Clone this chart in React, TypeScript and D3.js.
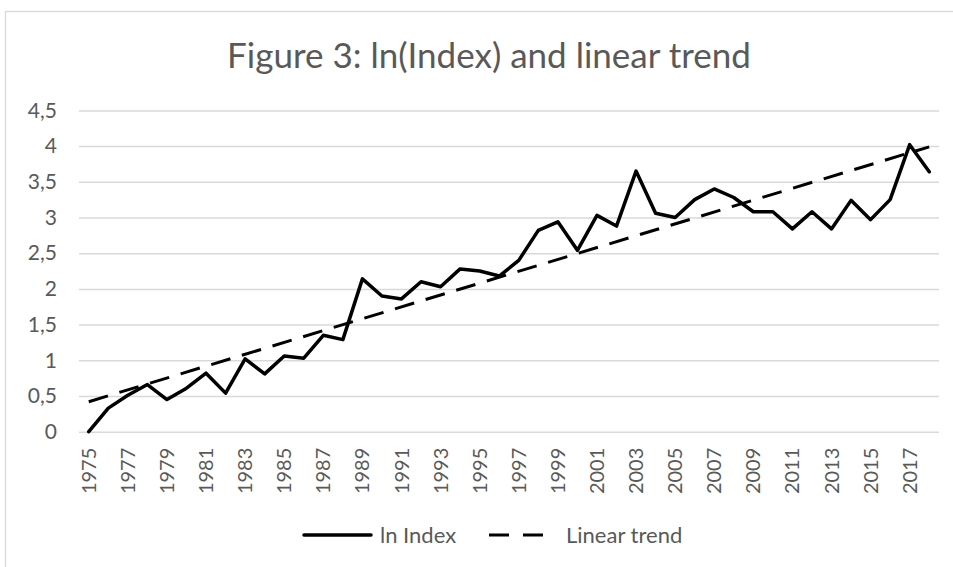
import { useEffect, useRef } from "react";
import * as d3 from "d3";

const years = d3.range(1975, 2019);
const lnIndex = [
  0, 0.33, 0.51, 0.66, 0.45, 0.61, 0.82, 0.54, 1.02, 0.81,
  1.06, 1.03, 1.35, 1.29, 2.14, 1.9, 1.86, 2.1, 2.03, 2.28,
  2.25, 2.18, 2.4, 2.82, 2.94, 2.54, 3.03, 2.88, 3.65, 3.06,
  3.0, 3.25, 3.4, 3.28, 3.08, 3.08, 2.84, 3.08, 2.84, 3.24,
  2.97, 3.25, 4.02, 3.64,
];
// trend line end points (first and last year)
const trendYears = [1975, 2018];
const trendValues = [0.42, 3.99];
const yTicks = [0, 0.5, 1, 1.5, 2, 2.5, 3, 3.5, 4, 4.5];
const title = "Figure 3: ln(Index) and linear trend";
const seriesNames = ["ln Index", "Linear trend"];

export default function App() {
  const ref = useRef(null);

  useEffect(() => {
    const svg = d3.select(ref.current);
    const width = 953;
    const height = 567;
    const plot = { left: 79, right: 939, top: 110.4, bottom: 431.7 };
    const font = "Lato, 'Open Sans', sans-serif";
    const textColor = "#595959";
    const gridColor = "#d9d9d9";

    svg.selectAll("*").remove();
    svg.attr("width", width).attr("height", height);

    svg
      .append("rect")
      .attr("x", 5.5)
      .attr("y", 11.5)
      .attr("width", 1000)
      .attr("height", 700)
      .attr("fill", "#fff")
      .attr("stroke", gridColor)
      .attr("stroke-width", 1.3);

    svg
      .append("text")
      .attr("x", 489)
      .attr("y", 68)
      .attr("text-anchor", "middle")
      .attr("fill", textColor)
      .style("font-family", font)
      .style("font-size", "35px")
      .text(title);

    const x = d3.scaleBand().domain(years).range([plot.left, plot.right]);
    const cx = (yr) => x(yr) + x.bandwidth() / 2;
    const y = d3.scaleLinear().domain([0, 4.5]).range([plot.bottom, plot.top]);
    const fmt = (d) => String(d).replace(".", ",");

    svg
      .append("g")
      .attr("transform", `translate(${plot.left},0)`)
      .call(d3.axisLeft(y).tickValues(yTicks).tickFormat(fmt).tickSize(-(plot.right - plot.left)).tickPadding(22))
      .call((g) => g.select(".domain").remove())
      .call((g) => g.selectAll("line").attr("stroke", gridColor).attr("stroke-width", 1.5))
      .call((g) =>
        g.selectAll("text").attr("fill", textColor).style("font-family", font).style("font-size", "21px")
      );

    svg
      .append("g")
      .attr("transform", `translate(0,${plot.bottom})`)
      .call(
        d3
          .axisBottom(x)
          .tickValues(years.filter((d) => d % 2 === 1))
          .tickSize(0)
      )
      .call((g) => g.select(".domain").remove())
      .call((g) =>
        g
          .selectAll("text")
          .attr("fill", textColor)
          .style("font-family", font)
          .style("font-size", "20px")
          .attr("text-anchor", "end")
          .attr("dy", "0.35em")
          .attr("x", -16)
          .attr("y", 0)
          .attr("transform", "rotate(-90)")
      );

    const trend = d3
      .line()
      .x((d, i) => cx(trendYears[i]))
      .y((d) => y(d));

    svg
      .append("path")
      .datum(trendValues)
      .attr("d", trend)
      .attr("fill", "none")
      .attr("stroke", "#000")
      .attr("stroke-width", 3)
      .attr("stroke-dasharray", "20 12");

    const line = d3
      .line()
      .x((d, i) => cx(years[i]))
      .y((d) => y(d));

    svg
      .append("path")
      .datum(lnIndex)
      .attr("d", line)
      .attr("fill", "none")
      .attr("stroke", "#000")
      .attr("stroke-width", 3.5)
      .attr("stroke-linejoin", "round")
      .attr("stroke-linecap", "round");

    // legend
    const legendY = 535;
    const lg = svg.append("g").style("font-family", font).style("font-size", "22px");
    lg.append("line")
      .attr("x1", 304).attr("x2", 371).attr("y1", legendY).attr("y2", legendY)
      .attr("stroke", "#000").attr("stroke-width", 3.5).attr("stroke-linecap", "round");
    lg.append("text").attr("x", 380).attr("y", legendY).attr("dy", "0.35em").attr("fill", textColor).text(seriesNames[0]);
    lg.append("line")
      .attr("x1", 489).attr("x2", 548).attr("y1", legendY).attr("y2", legendY)
      .attr("stroke", "#000").attr("stroke-width", 3).attr("stroke-dasharray", "20 14");
    lg.append("text").attr("x", 566).attr("y", legendY).attr("dy", "0.35em").attr("fill", textColor).text(seriesNames[1]);
  }, []);

  return <svg ref={ref} style={{ position: "absolute", left: 0, top: 0 }} />;
}
